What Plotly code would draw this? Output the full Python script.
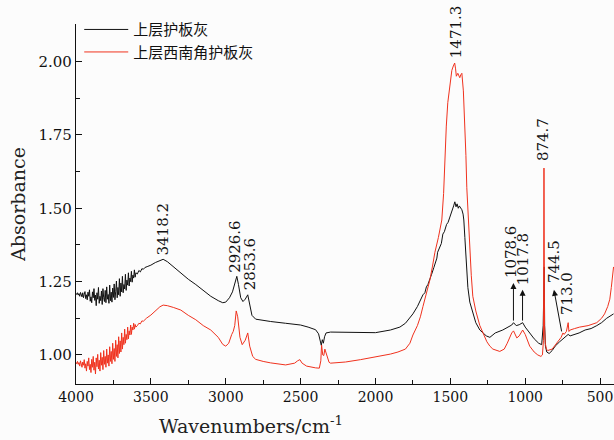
import plotly.graph_objects as go

# ---------------- data ----------------
series_names = ["上层护板灰", "上层西南角护板灰"]

# noisy high-wavenumber part, shared wavenumber grid
wn_noise = [4000, 3995, 3990, 3985, 3980, 3975, 3970, 3965, 3960, 3955,
            3950, 3945, 3940, 3935, 3930, 3925, 3920, 3915, 3910, 3905,
            3900, 3895, 3890, 3885, 3880, 3875, 3870, 3865, 3860, 3855,
            3850, 3845, 3840, 3835, 3830, 3825, 3820, 3815, 3810, 3805,
            3800, 3795, 3790, 3785, 3780, 3775, 3770, 3765, 3760, 3755,
            3750, 3745, 3740, 3735, 3730, 3725, 3720, 3715, 3710, 3705,
            3700, 3695, 3690, 3685, 3680, 3675, 3670, 3665, 3660, 3655,
            3650, 3645, 3640, 3635, 3630, 3625, 3620, 3615, 3610, 3605,
            3600]
abs_black_noise = [1.210, 1.206, 1.212, 1.204, 1.209, 1.200, 1.213, 1.203, 1.198, 1.212,
                   1.195, 1.207, 1.216, 1.192, 1.205, 1.188, 1.214, 1.200, 1.222, 1.183,
                   1.198, 1.178, 1.215, 1.195, 1.226, 1.186, 1.204, 1.168, 1.212, 1.190,
                   1.230, 1.176, 1.200, 1.185, 1.218, 1.172, 1.226, 1.195, 1.182, 1.220,
                   1.178, 1.232, 1.190, 1.206, 1.176, 1.238, 1.185, 1.214, 1.180, 1.228,
                   1.196, 1.242, 1.188, 1.215, 1.252, 1.195, 1.230, 1.205, 1.260, 1.200,
                   1.245, 1.215, 1.268, 1.212, 1.240, 1.225, 1.275, 1.220, 1.255, 1.238,
                   1.280, 1.235, 1.262, 1.250, 1.285, 1.248, 1.272, 1.262, 1.290, 1.265,
                   1.280]
abs_red_noise = [0.975, 0.970, 0.978, 0.968, 0.974, 0.962, 0.980, 0.972, 0.958, 0.976,
                 0.965, 0.984, 0.955, 0.970, 0.945, 0.978, 0.962, 0.990, 0.950, 0.968,
                 0.940, 0.985, 0.958, 0.995, 0.948, 0.975, 0.935, 0.990, 0.960, 1.002,
                 0.952, 0.982, 0.945, 1.008, 0.965, 0.992, 0.950, 1.015, 0.968, 0.995,
                 0.958, 1.020, 0.972, 1.000, 0.962, 1.028, 0.978, 1.012, 0.970, 1.040,
                 0.985, 1.022, 0.978, 1.050, 0.995, 1.035, 0.990, 1.062, 1.005, 1.048,
                 1.010, 1.075, 1.020, 1.060, 1.035, 1.088, 1.040, 1.070, 1.052, 1.095,
                 1.055, 1.082, 1.068, 1.102, 1.070, 1.095, 1.085, 1.108, 1.088, 1.104,
                 1.095]

wn_black_rest = [3590, 3580, 3570, 3560, 3550, 3540, 3520, 3500, 3470, 3440, 3418, 3390, 3350, 3300, 3250,
                 3200, 3150, 3100, 3050, 3020, 3000, 2975, 2955, 2940, 2926, 2915, 2900, 2885, 2870,
                 2853, 2840, 2825, 2800, 2750, 2700, 2600, 2500, 2450, 2400, 2380, 2370, 2362, 2355,
                 2348, 2340, 2330, 2300, 2200, 2100, 2000, 1900, 1837, 1800, 1750, 1720, 1700, 1683,
                 1670, 1660, 1650, 1637, 1625, 1610, 1600, 1590, 1585, 1570, 1560, 1550, 1540, 1525,
                 1515, 1503, 1495, 1485, 1478, 1470, 1462, 1455, 1447, 1440, 1430, 1423, 1415, 1410,
                 1403, 1393, 1383, 1370, 1350, 1330, 1303, 1260, 1236, 1200, 1150, 1110, 1090, 1078,
                 1060, 1040, 1017, 1000, 970, 940, 910, 890, 880, 876, 873, 870, 865, 856, 840, 820,
                 800, 770, 745, 735, 720, 713, 700, 670, 640, 600, 560, 522, 490, 456, 430, 410]
abs_black_rest = [1.276, 1.288, 1.283, 1.294, 1.292, 1.298, 1.302, 1.306, 1.315, 1.322, 1.326, 1.318, 1.300, 1.280, 1.258,
                  1.240, 1.220, 1.200, 1.185, 1.178, 1.180, 1.195, 1.215, 1.240, 1.268, 1.240, 1.195, 1.182, 1.190,
                  1.205, 1.170, 1.135, 1.122, 1.117, 1.114, 1.108, 1.102, 1.095, 1.086, 1.072, 1.048, 1.033, 1.052,
                  1.040, 1.062, 1.075, 1.078, 1.077, 1.076, 1.076, 1.085, 1.095, 1.108, 1.140, 1.165, 1.185, 1.205,
                  1.212, 1.232, 1.240, 1.262, 1.275, 1.298, 1.312, 1.330, 1.350, 1.368, 1.380, 1.412, 1.420, 1.445,
                  1.452, 1.470, 1.485, 1.500, 1.508, 1.522, 1.505, 1.515, 1.500, 1.508, 1.500, 1.495, 1.480, 1.460,
                  1.400, 1.320, 1.230, 1.180, 1.143, 1.110, 1.085, 1.065, 1.060, 1.075, 1.085, 1.098, 1.102, 1.110,
                  1.100, 1.103, 1.110, 1.095, 1.075, 1.055, 1.040, 1.035, 1.100, 1.300, 1.300, 1.100, 1.030, 1.010,
                  1.005, 1.015, 1.030, 1.045, 1.055, 1.060, 1.065, 1.070, 1.065, 1.070, 1.075, 1.085, 1.090, 1.100,
                  1.110, 1.125, 1.135, 1.140]

wn_red_rest = [3590, 3580, 3570, 3560, 3550, 3530, 3500, 3470, 3440, 3418, 3390, 3350, 3300, 3250, 3200,
               3150, 3100, 3050, 3020, 3000, 2980, 2960, 2950, 2940, 2930, 2920, 2905, 2890, 2870,
               2853, 2840, 2820, 2800, 2750, 2700, 2600, 2540, 2520, 2505, 2490, 2460, 2400, 2375,
               2365, 2360, 2352, 2345, 2338, 2328, 2310, 2300, 2200, 2100, 2000, 1900, 1850, 1800,
               1770, 1750, 1720, 1700, 1683, 1660, 1637, 1620, 1603, 1580, 1557, 1545, 1537, 1527,
               1517, 1505, 1490, 1480, 1471, 1465, 1460, 1450, 1437, 1430, 1423, 1413, 1403, 1396,
               1390, 1380, 1370, 1360, 1350, 1330, 1303, 1280, 1256, 1236, 1216, 1170, 1140, 1120,
               1103, 1090, 1078, 1065, 1056, 1040, 1017, 1000, 970, 940, 916, 895, 885, 878,
               874.7, 871, 866, 858, 850, 820, 790, 760, 748, 740, 725, 716, 713, 708,
               700, 670, 636, 580, 522, 490, 470, 449, 435, 425, 415, 410]
abs_red_rest = [1.100, 1.108, 1.106, 1.116, 1.115, 1.125, 1.136, 1.150, 1.164, 1.170, 1.168, 1.162, 1.153, 1.135, 1.120,
                1.100, 1.085, 1.060, 1.036, 1.030, 1.040, 1.070, 1.080, 1.100, 1.150, 1.130, 1.060, 1.035, 1.050,
                1.075, 1.030, 0.995, 0.985, 0.978, 0.973, 0.966, 0.972, 0.980, 0.984, 0.972, 0.962, 0.956, 0.955,
                0.980, 1.034, 1.000, 0.998, 1.020, 1.005, 0.975, 0.972, 0.976, 0.984, 0.993, 1.003, 1.010, 1.020,
                1.040, 1.068, 1.100, 1.130, 1.165, 1.210, 1.255, 1.300, 1.350, 1.400, 1.460, 1.550, 1.690, 1.780,
                1.860, 1.920, 1.970, 1.985, 1.995, 1.975, 1.950, 1.960, 1.945, 1.955, 1.960, 1.900, 1.800, 1.680,
                1.570, 1.450, 1.350, 1.270, 1.200, 1.150, 1.100, 1.070, 1.045, 1.030, 1.020, 1.012, 1.020, 1.040,
                1.060, 1.075, 1.082, 1.065, 1.058, 1.065, 1.085, 1.070, 1.030, 1.010, 1.000, 0.995, 1.000, 1.050,
                1.637, 1.100, 1.040, 1.020, 1.015, 1.020, 1.040, 1.060, 1.075, 1.070, 1.080, 1.105, 1.110, 1.080,
                1.085, 1.090, 1.095, 1.100, 1.110, 1.125, 1.140, 1.165, 1.190, 1.230, 1.280, 1.300]

peak_labels = ["3418.2", "2926.6", "2853.6", "1471.3", "1078.6", "1017.8", "874.7", "744.5", "713.0"]
x_tick_vals = [4000, 3500, 3000, 2500, 2000, 1500, 1000, 500]
y_tick_vals = [1.00, 1.25, 1.50, 1.75, 2.00]

wn_black = wn_noise + wn_black_rest
abs_black = abs_black_noise + abs_black_rest
wn_red = wn_noise + wn_red_rest
abs_red = abs_red_noise + abs_red_rest

# ---------------- figure ----------------
SERIF = "DejaVu Serif"
fig = go.Figure()
fig.add_trace(go.Scatter(x=wn_black, y=abs_black, mode="lines", name=series_names[0],
                         line=dict(color="#111111", width=1)))
fig.add_trace(go.Scatter(x=wn_red, y=abs_red, mode="lines", name=series_names[1],
                         line=dict(color="#f0321e", width=1)))

# label placement: (x of text centre, y of text bottom)
label_pos = {
    "3418.2": (3418, 1.331),
    "2926.6": (2935, 1.273),
    "2853.6": (2838, 1.215),
    "1471.3": (1463, 2.006),
    "1078.6": (1090, 1.256),
    "1017.8": (1015, 1.232),
    "874.7": (876, 1.655),
    "744.5": (803, 1.239),
    "713.0": (716, 1.130),
}
arrows = {
    "1078.6": ((1078.6, 1.112), (1078.6, 1.245)),
    "1017.8": ((1017.8, 1.112), (1017.8, 1.222)),
    "744.5": ((755, 1.075), (808, 1.222)),
}
annotations = []
for lab in peak_labels:
    px, py = label_pos[lab]
    annotations.append(dict(x=px, y=py, xref="x", yref="y", text=lab, showarrow=False,
                            textangle=-90, xanchor="center", yanchor="bottom",
                            font=dict(family=SERIF, size=15, color="#111111")))
    if lab in arrows:
        (tx, ty), (hx, hy) = arrows[lab]
        annotations.append(dict(x=hx, y=hy, ax=tx, ay=ty, xref="x", yref="y", axref="x", ayref="y",
                                text="", showarrow=True, arrowhead=2, arrowsize=1.2,
                                arrowwidth=1, arrowcolor="#111111", standoff=0, startstandoff=0))

annotations.append(dict(x=-0.108, y=0.5, xref="paper", yref="paper", text="Absorbance",
                        textangle=-90, showarrow=False, xanchor="center", yanchor="middle",
                        font=dict(family=SERIF, size=19, color="#222222")))
annotations.append(dict(x=0.325, y=-0.113, xref="paper", yref="paper",
                        text="Wavenumbers/cm<sup>-1</sup>", showarrow=False,
                        xanchor="center", yanchor="middle",
                        font=dict(family=SERIF, size=19, color="#222222")))

fig.update_layout(
    width=614, height=440,
    margin=dict(l=76, r=0, t=24, b=56, autoexpand=False),
    paper_bgcolor="#fcfcfc", plot_bgcolor="#fcfcfc",
    showlegend=True,
    legend=dict(x=0.006, y=1.03, xanchor="left", yanchor="top", itemwidth=44,
                bgcolor="rgba(0,0,0,0)", borderwidth=0, tracegroupgap=0,
                font=dict(family="Noto Sans CJK SC", size=15, color="#111111")),
    annotations=annotations,
)
fig.update_xaxes(range=[4000, 407], tickvals=x_tick_vals, ticktext=[str(v) for v in x_tick_vals],
                 ticks="inside", ticklen=6, tickwidth=1, tickcolor="#111111",
                 minor=dict(dtick=250, ticks="inside", ticklen=4, tickcolor="#111111", tick0=0),
                 showline=True, linecolor="#111111", linewidth=1.2,
                 showgrid=False, zeroline=False, automargin=False,
                 tickfont=dict(family=SERIF, size=14, color="#111111"))
fig.update_yaxes(range=[0.901, 2.128], tickvals=y_tick_vals, ticktext=[f"{v:.2f}" for v in y_tick_vals],
                 ticks="inside", ticklen=6, tickwidth=1, tickcolor="#111111",
                 minor=dict(dtick=0.125, tick0=1.0, ticks="inside", ticklen=4, tickcolor="#111111"),
                 showline=True, linecolor="#111111", linewidth=1.2,
                 showgrid=False, zeroline=False, automargin=False,
                 tickfont=dict(family=SERIF, size=15, color="#111111"))

fig.write_html("out.html", config={"displayModeBar": False},
               post_script="document.body.style.margin='0';document.body.style.overflow='hidden';")
